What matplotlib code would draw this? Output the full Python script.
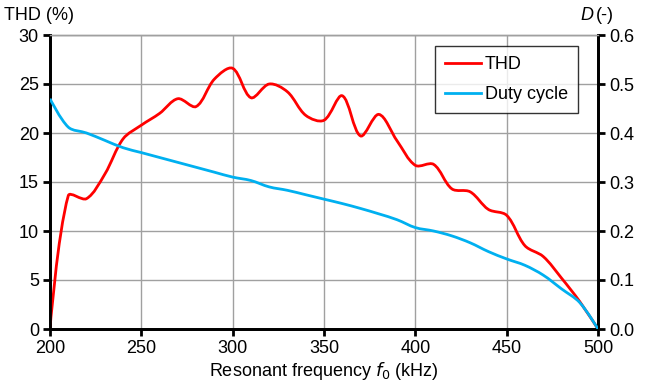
import matplotlib
matplotlib.use("Agg")
import matplotlib.pyplot as plt
from matplotlib.path import Path
from matplotlib.patches import PathPatch
from matplotlib.lines import Line2D

plt.rcParams['font.family'] = ['Liberation Sans', 'DejaVu Sans']

freq = [200, 210, 220, 230, 240, 250, 260, 270, 280, 290, 300, 310, 320, 330, 340,
        350, 360, 370, 380, 390, 400, 410, 420, 430, 440, 450, 460, 470, 480, 490, 500]
thd = [0.0, 13.6, 13.3, 15.8, 19.4, 20.8, 22.0, 23.5, 22.7, 25.5, 26.6, 23.6, 25.0, 24.2, 21.8,
       21.3, 23.8, 19.7, 21.9, 19.2, 16.7, 16.8, 14.3, 14.0, 12.2, 11.6, 8.5, 7.4, 5.2, 2.8, 0.0]
duty = [0.47, 0.412, 0.40, 0.385, 0.37, 0.36, 0.35, 0.34, 0.33, 0.32, 0.31, 0.303, 0.29, 0.283, 0.274,
        0.265, 0.256, 0.246, 0.235, 0.223, 0.207, 0.200, 0.190, 0.176, 0.158, 0.143, 0.130, 0.110, 0.082, 0.054, 0.0]

AX_W, AX_H = 548, 294


def smooth_path(xs, ys, sx, sy):
    # smoothed line like a spreadsheet chart: bezier segments, tangents
    # weighted by on-screen segment lengths so short hops don't overshoot
    n = len(xs)
    px = [x * sx for x in xs]
    py = [y * sy for y in ys]
    d = [((px[i + 1] - px[i]) ** 2 + (py[i + 1] - py[i]) ** 2) ** 0.5 for i in range(n - 1)]

    def tangent(i):
        if i == 0 or i == n - 1:
            return None
        return (xs[i + 1] - xs[i - 1], ys[i + 1] - ys[i - 1], d[i - 1] + d[i])

    verts = [(xs[0], ys[0])]
    codes = [Path.MOVETO]
    for i in range(n - 1):
        t1 = tangent(i)
        t2 = tangent(i + 1)
        if t1 is None:
            c1 = (xs[i], ys[i])
        else:
            f = d[i] / t1[2] / 3 if t1[2] else 0
            c1 = (xs[i] + t1[0] * f, ys[i] + t1[1] * f)
        if t2 is None:
            c2 = (xs[i + 1], ys[i + 1])
        else:
            f = d[i] / t2[2] / 3 if t2[2] else 0
            c2 = (xs[i + 1] - t2[0] * f, ys[i + 1] - t2[1] * f)
        verts += [c1, c2, (xs[i + 1], ys[i + 1])]
        codes += [Path.CURVE4] * 3
    return Path(verts, codes)


fig = plt.figure(figsize=(6.55, 3.89), dpi=100)
ax = fig.add_axes([50 / 655, 1 - 329 / 389, AX_W / 655, AX_H / 389])
ax2 = ax.twinx()

red = '#ff0000'
blue = '#00b0f0'

ax.set_xlim(200, 500)
ax.set_ylim(0, 30)
ax2.set_ylim(0, 0.6)

ax.add_patch(PathPatch(smooth_path(freq, thd, AX_W / 300, AX_H / 30),
                       facecolor='none', edgecolor=red, lw=2, zorder=3))
ax2.add_patch(PathPatch(smooth_path(freq, duty, AX_W / 300, AX_H / 0.6),
                        facecolor='none', edgecolor=blue, lw=2, zorder=3))

ax.set_xticks(range(200, 501, 50))
ax.set_yticks(range(0, 31, 5))
ax2.set_yticks([0, 0.1, 0.2, 0.3, 0.4, 0.5, 0.6])
ax2.set_yticklabels(['%.1f' % v for v in [0, 0.1, 0.2, 0.3, 0.4, 0.5, 0.6]])

ax.grid(True, color='#a0a0a0', lw=1)
ax.set_axisbelow(True)

fs = 13
for a in (ax, ax2):
    a.spines['top'].set_color('#a0a0a0')
    a.spines['top'].set_linewidth(1)
    for s in ('left', 'right', 'bottom'):
        a.spines[s].set_linewidth(2)
        a.spines[s].set_color('black')
    a.tick_params(labelsize=fs, width=2, length=5, colors='black', pad=3)

ax.set_xlabel('Resonant frequency $f_0$ (kHz)', fontsize=fs, labelpad=2)
fig.text(4 / 655, 1 - 15 / 389, 'THD (%)', fontsize=fs, va='center', ha='left')
fig.text(596 / 655, 1 - 15 / 389, '(-)', fontsize=fs, va='center', ha='left')
fig.text(593 / 655, 1 - 15 / 389, 'D', fontsize=fs, style='italic', va='center', ha='right')

handles = [Line2D([], [], color=red, lw=2), Line2D([], [], color=blue, lw=2)]
leg = ax2.legend(handles, ['THD', 'Duty cycle'], loc='upper right',
                 bbox_to_anchor=(578 / 655, 1 - 46 / 389), bbox_transform=fig.transFigure,
                 fontsize=fs, frameon=True, fancybox=False, handlelength=2.0,
                 handletextpad=0.2, borderpad=0.55, labelspacing=0.75, borderaxespad=0)
leg.get_frame().set_edgecolor('black')
leg.get_frame().set_linewidth(1)

fig.savefig('out.png', dpi=100)
